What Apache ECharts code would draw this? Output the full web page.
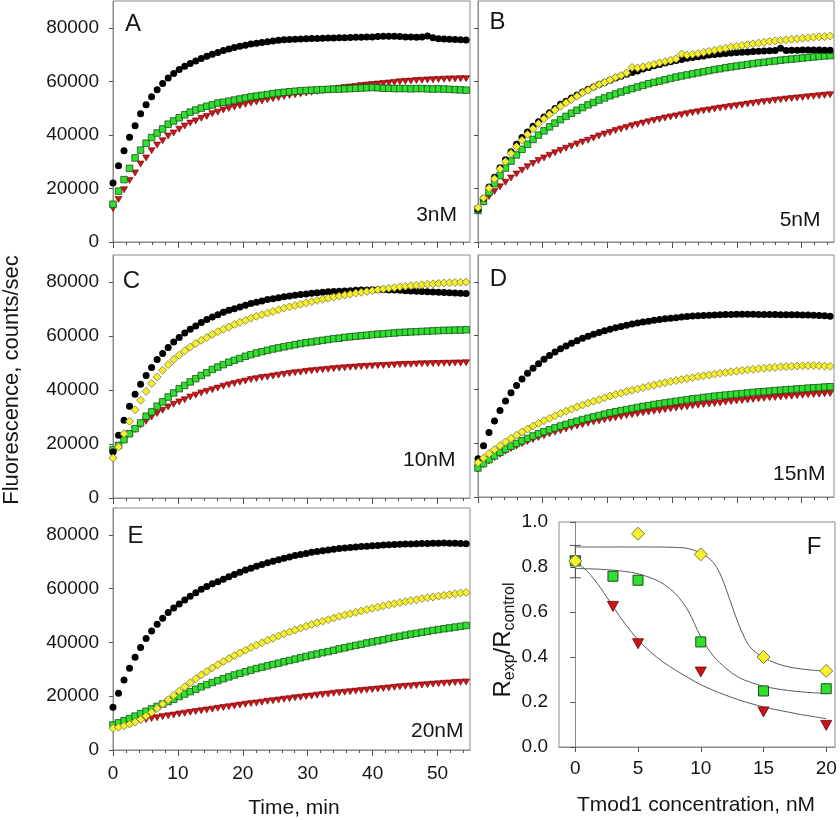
<!DOCTYPE html>
<html><head><meta charset="utf-8">
<script src="https://cdn.jsdelivr.net/npm/echarts@6.0.0/dist/echarts.min.js"></script>
<style>html,body{margin:0;padding:0;background:#fff}#c{width:840px;height:820px}</style>
</head><body><div id="c"></div>
<script>
// ---------- DATA ----------
const time = [0,0.85,1.7,2.55,3.4,4.25,5.1,5.95,6.8,7.65,8.5,9.35,10.2,11.05,11.9,12.75,13.6,14.45,15.3,16.15,17,17.85,18.7,19.55,20.4,21.25,22.1,22.95,23.8,24.65,25.5,26.35,27.2,28.05,28.9,29.75,30.6,31.45,32.3,33.15,34,34.85,35.7,36.55,37.4,38.25,39.1,39.95,40.8,41.65,42.5,43.35,44.2,45.05,45.9,46.75,47.6,48.45,49.3,50.15,51,51.85,52.7,53.55,54.4];

// Panel A (3nM)
const A_black = [22000,28500,34100,39100,43400,47900,51300,54200,56900,59200,61200,62900,64400,65600,66700,67600,68500,69400,70100,70800,71500,72100,72600,73100,73500,73900,74200,74500,74800,75100,75300,75500,75600,75700,75800,75900,76000,76000,76100,76200,76200,76300,76300,76400,76500,76500,76600,76600,76700,76800,76800,76800,76700,76600,76600,76500,76600,76900,76300,75900,75800,75700,75600,75500,75400];
const A_green = [14100,19000,23300,27500,31400,34300,36900,39000,40700,42200,44000,45200,46400,47500,48500,49300,50000,50700,51200,51900,52200,52600,53000,53400,53800,54200,54500,54800,55100,55400,55700,55900,56100,56300,56500,56600,56700,56800,56900,57000,57100,57100,57200,57300,57400,57500,57600,57700,57600,57400,57400,57300,57300,57300,57200,57300,57300,57200,57100,57200,57100,57000,56900,56800,56700];
const A_red = [12500,15900,19500,23000,25800,29100,31400,34100,36200,37800,39600,40700,42100,43300,44400,45200,46200,46900,47900,48500,49300,49900,50400,50900,51400,51900,52300,52700,53100,53500,53900,54300,54700,55000,55300,55600,55900,56200,56500,56800,57100,57400,57700,57900,58100,58400,58600,58800,59000,59200,59400,59600,59800,60000,60100,60300,60400,60500,60600,60700,60800,60900,60900,61000,61000];

// Panel B (5nM)
const B_black = [12200,16200,20500,24200,27700,30700,33700,36500,39000,41100,43200,44900,46700,48300,49900,51400,52600,53800,54900,56000,57000,57900,58800,59600,60400,61200,61900,62600,63300,63900,64600,65200,65800,66300,66800,67300,67800,68200,68600,68900,69200,69500,69800,70000,70200,70400,70600,70800,70900,71000,71100,71200,71300,71400,71500,72400,71500,71600,71600,71700,71700,71700,71700,71600,71600];
const B_yellow = [12800,16400,20100,23600,27300,30100,33100,35700,38000,40200,42300,44200,46000,47700,49300,50700,52000,53200,54400,55700,56700,57800,58800,59600,60500,61500,62200,63100,65200,65000,65400,65900,66400,66900,67400,67900,68400,70200,69800,70100,70400,70800,71200,71600,72000,72400,72800,73100,73400,73700,74000,74300,74600,74900,75100,75300,75500,75700,75900,76100,76300,76500,76600,76700,76900];
const B_green = [11800,15200,18600,21800,24800,27600,30200,32500,34600,36500,38300,39900,41500,43000,44400,45700,46900,48100,49200,50200,51200,52100,53000,53800,54600,55300,56000,56700,57300,57900,58500,59100,59600,60100,60600,61100,61600,62000,62400,62800,63200,63600,64000,64400,64700,65100,65400,65700,66000,66300,66600,66900,67100,67400,67600,67900,68100,68300,68500,68700,68900,69100,69300,69500,69600];
const B_red = [12300,14800,17000,18900,20600,22300,23900,25400,26800,28100,29300,30400,31400,32400,33300,34200,35000,35800,36600,37300,38000,38800,39600,40300,40900,41600,42200,42800,43400,43900,44400,44900,45400,45800,46300,46700,47100,47500,47900,48300,48600,49000,49300,49700,50000,50300,50600,50900,51200,51500,51800,52100,52400,52600,52900,53100,53400,53600,53800,54000,54200,54400,54600,54800,55000];

// Panel C (10nM)
const C_black = [17000,23200,28800,34000,38400,42100,45400,48300,51300,53500,55700,57800,59400,61100,62500,63700,65000,66100,67000,67900,68800,69500,70100,70700,71400,72000,72500,73000,73500,73800,74200,74500,74800,75100,75400,75600,75800,76000,76200,76400,76500,76600,76700,76800,76900,77000,77000,77100,77100,77100,77000,77000,76900,76800,76700,76600,76500,76400,76300,76200,76100,76000,75900,75800,75700];
const C_yellow = [14800,18900,23800,28400,32700,36200,39500,42400,44800,47300,49400,51300,52900,54500,55900,57200,58400,59400,60600,61600,62500,63300,64300,65100,65800,66600,67300,67900,68500,69100,69700,70300,70800,71300,71800,72300,72700,73200,73600,74000,74400,74800,75200,75500,75900,76200,76500,76800,77100,77400,77700,77900,78200,78400,78600,78800,79000,79200,79300,79500,79600,79700,79800,79900,80000];
const C_green = [17900,19500,21600,23800,25700,27800,30300,31900,34000,35600,37400,38900,40500,41700,43000,44200,45400,46400,47600,48500,49400,50300,51000,51700,52500,53100,53700,54200,54700,55200,55600,56000,56400,56800,57200,57500,57800,58100,58400,58700,59000,59200,59500,59700,59900,60100,60300,60500,60700,60800,61000,61100,61300,61400,61500,61600,61700,61800,61900,62000,62100,62100,62200,62200,62300];
const C_red = [16800,19400,21700,23700,25400,27000,28400,30000,31300,32500,33700,34700,35600,36400,37400,38100,38900,39500,40100,40700,41400,41900,42400,42900,43300,43900,44200,44600,44800,45200,45500,45800,46100,46400,46600,46900,47100,47300,47500,47700,47900,48100,48200,48400,48500,48700,48800,48900,49000,49100,49200,49300,49400,49500,49500,49600,49700,49700,49800,49800,49900,49900,50000,50000,50100];

// Panel D (15nM)
const D_black = [14200,19100,24000,28300,32200,35700,38800,41500,43900,46000,47900,49600,51200,52600,53900,55100,56200,57200,58100,59000,59800,60500,61200,61800,62400,62900,63400,63900,64300,64700,65100,65400,65700,66000,66300,66500,66700,66900,67100,67300,67400,67500,67600,67700,67800,67900,67900,68000,68000,68000,68000,67900,67900,67900,67900,67800,67800,67800,67800,67700,67700,67600,67500,67400,67200];
const D_yellow = [12800,14500,16100,17600,19100,20500,21800,23000,24200,25300,26400,27400,28400,29300,30200,31100,31900,32700,33500,34200,34900,35600,36200,36900,37500,38100,38600,39200,39700,40200,40700,41200,41600,42100,42500,42900,43300,43700,44100,44400,44800,45100,45400,45700,46000,46300,46600,46800,47100,47300,47500,47700,47900,48100,48200,48400,48500,48600,48700,48800,48800,48900,48800,48700,48600];
const D_green = [10800,12400,13900,15300,16600,17800,18900,19900,20900,21800,22700,23500,24300,25000,25700,26400,27000,27600,28200,28800,29300,29800,30300,30800,31300,31700,32100,32500,32900,33300,33700,34000,34400,34700,35000,35300,35600,35900,36200,36500,36700,37000,37200,37500,37700,37900,38100,38300,38500,38700,38900,39100,39200,39400,39600,39700,39900,40000,40200,40300,40500,40600,40700,40900,41000];
const D_red = [10500,12000,13400,14700,15900,17000,18000,18900,19800,20600,21400,22100,22800,23500,24100,24700,25300,25900,26400,26900,27400,27900,28300,28700,29100,29500,29900,30300,30600,31000,31300,31600,31900,32200,32500,32800,33100,33400,33600,33900,34100,34400,34600,34800,35000,35300,35500,35700,35900,36100,36300,36500,36700,36900,37000,37200,37400,37500,37700,37800,38000,38100,38200,38400,38500];

// Panel E (20nM)
const E_black = [15900,21100,26000,30400,34500,38100,41500,44300,46800,49000,51100,52800,54300,55800,57200,58500,59800,60800,61800,62600,63500,64400,65300,66100,66900,67600,68300,69000,69600,70200,70800,71300,71800,72300,72700,73100,73500,73800,74100,74400,74700,74900,75100,75300,75500,75700,75800,76000,76100,76200,76300,76400,76500,76600,76600,76700,76800,76800,76900,76900,77000,76900,76900,76800,76700];
const E_yellow = [8100,8500,9000,9600,10400,11400,12600,14000,15500,17100,18700,20300,21900,23500,25000,26500,27900,29200,30500,31700,32900,34000,35100,36100,37100,38100,39000,39900,40800,41600,42400,43200,43900,44600,45300,46000,46700,47300,47900,48500,49100,49700,50200,50700,51200,51700,52200,52700,53100,53600,54000,54400,54800,55200,55600,55900,56300,56600,56900,57200,57500,57800,58100,58400,58600];
const E_green = [9300,10100,10900,11700,12600,13500,14400,15300,16200,17100,18000,18900,19900,20800,21700,22600,23500,24300,25100,25800,26500,27200,27900,28500,29100,29700,30300,30800,31300,31800,32300,32800,33300,33800,34300,34800,35300,35700,36200,36600,37100,37600,38000,38500,38900,39300,39800,40200,40600,41000,41500,41900,42300,42700,43100,43400,43800,44100,44500,44800,45100,45400,45700,46000,46300];
const E_red = [9000,9400,9800,10200,10600,11000,11300,11700,12000,12400,12700,13000,13400,13700,14000,14300,14600,14900,15200,15500,15800,16100,16400,16700,17000,17300,17500,17800,18100,18300,18600,18900,19100,19400,19600,19900,20100,20400,20600,20800,21100,21300,21500,21700,21900,22100,22300,22500,22700,22900,23100,23300,23500,23700,23800,24000,24200,24300,24500,24600,24800,24900,25100,25200,25300];

// Panel F: ratio vs Tmod1 concentration
const F_yellow_x = [0,5,10,15,20];
const F_yellow_y = [0.827,0.948,0.856,0.400,0.338];
const F_green_x = [0,3,5,10,15,20];
const F_green_y = [0.827,0.759,0.741,0.467,0.249,0.259];
const F_red_x = [0,3,5,10,15,20];
const F_red_y = [0.827,0.625,0.459,0.333,0.156,0.096];
const fitYellow_x = [0,2,4,6,8,9,10,10.5,11,11.5,12,12.5,13,13.5,14,15,16,17,18,19,20];
const fitYellow_y = [0.889,0.889,0.889,0.889,0.887,0.882,0.862,0.845,0.82,0.775,0.705,0.625,0.548,0.485,0.44,0.398,0.372,0.356,0.347,0.341,0.338];
const fitGreen_x = [0,1,2,3,4,5,6,7,8,9,10,11,12,13,14,15,16,17,18,19,20];
const fitGreen_y = [0.793,0.792,0.790,0.786,0.780,0.770,0.752,0.725,0.680,0.605,0.490,0.405,0.350,0.310,0.287,0.270,0.259,0.251,0.245,0.241,0.238];
const fitRed_x = [0,1,2,3,4,5,6,7,8,9,10,11,12,13,14,15,16,17,18,19,20];
const fitRed_y = [0.827,0.778,0.708,0.625,0.545,0.477,0.422,0.378,0.341,0.308,0.277,0.252,0.230,0.210,0.193,0.178,0.166,0.155,0.144,0.135,0.126];
const errX = [0];
const errLow = [0.752];
const errHigh = [0.896];

// tick labels
const timeMinorTicks = [0,2,4,6,8,10,12,14,16,18,20,22,24,26,28,30,32,34,36,38,40,42,44,46,48,50,52,54];
const timeMajorTicks = [0,10,20,30,40,50];
const fluoTicks = [0,20000,40000,60000,80000];
const concTicks = [0,5,10,15,20];

// ---------- CHART ----------
const FONT = '"Liberation Sans", Arial, sans-serif';
const TXT = '#151515';
const FRAME = '#8a8a8a';
const TICKC = '#505050';

const grids = [
  {left:113, top:1, width:357, height:241},
  {left:478, top:1, width:356, height:241},
  {left:113, top:255, width:357, height:243},
  {left:478, top:255, width:356, height:242},
  {left:113, top:508, width:357, height:242},
  {left:559, top:522, width:276, height:225}
].map(g => Object.assign(g, {show:true, borderColor:FRAME, borderWidth:1, backgroundColor:'transparent'}));

const xAxes = [], yAxes = [], series = [];
const showYLabel = [true,false,true,false,true];
for (let i = 0; i < 5; i++) {
  xAxes.push({
    type:'value', gridIndex:i, min:0, max:55, position:'bottom',
    axisLine:{show:true, lineStyle:{color:FRAME, width:1}},
    axisTick:{show:true, customValues:timeMinorTicks, length:3, lineStyle:{color:TICKC}},
    axisLabel:{show:i===4, customValues:timeMajorTicks, fontSize:19, fontFamily:FONT, color:TXT, margin:14, formatter:v => String(v)},
    splitLine:{show:false}
  });
  xAxes.push({
    type:'value', gridIndex:i, min:0, max:55, position:'bottom',
    axisLine:{show:false},
    axisTick:{show:true, customValues:timeMajorTicks, length:6, lineStyle:{color:TICKC}},
    axisLabel:{show:false},
    splitLine:{show:false}
  });
  yAxes.push({
    type:'value', gridIndex:i, min:0, max:90000,
    axisLine:{show:true, lineStyle:{color:FRAME, width:1}},
    axisTick:{show:true, customValues:fluoTicks, length:4, lineStyle:{color:TICKC}},
    axisLabel:{show:showYLabel[i], customValues:fluoTicks, fontSize:19, fontFamily:FONT, color:TXT, margin:14, formatter:v => String(v)},
    splitLine:{show:false}
  });
}
xAxes.push({
  type:'value', gridIndex:5, min:-1.3, max:20.7,
  axisLine:{show:true, lineStyle:{color:FRAME}},
  axisTick:{show:true, customValues:concTicks, length:5, lineStyle:{color:TICKC}},
  axisLabel:{show:true, customValues:concTicks, fontSize:19, fontFamily:FONT, color:TXT, margin:12, formatter:v => String(v)},
  splitLine:{show:false}
});
yAxes.push({
  type:'value', gridIndex:5, min:0, max:1, interval:0.2,
  axisLine:{show:true, lineStyle:{color:FRAME}},
  axisTick:{show:true, length:5, lineStyle:{color:TICKC}},
  axisLabel:{show:true, fontSize:19, fontFamily:FONT, color:TXT, margin:11, formatter:v => v.toFixed(1)},
  splitLine:{show:false}
});

const STY = {
  black:{symbol:'circle', symbolSize:7, itemStyle:{color:'#000', borderWidth:0, opacity:1}},
  green:{symbol:'rect', symbolSize:6.5, itemStyle:{color:'#2fe02f', borderColor:'#1b4d1b', borderWidth:0.8, opacity:1}},
  red:{symbol:'triangle', symbolSize:[7,6], symbolRotate:180, itemStyle:{color:'#c8161b', borderColor:'#6e0000', borderWidth:0.6, opacity:1}},
  yellow:{symbol:'diamond', symbolSize:[8,8], itemStyle:{color:'#f6f032', borderColor:'#7d7a33', borderWidth:0.8, opacity:1}}
};
function addScatter(gi, arr, kind) {
  series.push(Object.assign({
    type:'scatter', xAxisIndex:gi*2, yAxisIndex:gi,
    data: time.map((t, k) => [t, arr[k]]),
    silent:true, animation:false
  }, STY[kind]));
}
const panels = [
  {red:A_red, green:A_green, black:A_black},
  {red:B_red, green:B_green, black:B_black, yellow:B_yellow},
  {red:C_red, green:C_green, black:C_black, yellow:C_yellow},
  {red:D_red, green:D_green, black:D_black, yellow:D_yellow},
  {red:E_red, green:E_green, black:E_black, yellow:E_yellow}
];
panels.forEach((p, gi) => {
  ['red','green','black','yellow'].forEach(k => { if (p[k]) addScatter(gi, p[k], k); });
});

// Panel F
const fitLine = (xs, ys) => ({
  type:'line', xAxisIndex:10, yAxisIndex:5, data: xs.map((x, k) => [x, ys[k]]),
  smooth:0.35, showSymbol:false, symbol:'none', lineStyle:{color:'#5a5a5a', width:1}, silent:true, animation:false, z:1
});
series.push(fitLine(fitRed_x, fitRed_y));
series.push(fitLine(fitGreen_x, fitGreen_y));
series.push(fitLine(fitYellow_x, fitYellow_y));
series.push({
  type:'custom', xAxisIndex:10, yAxisIndex:5, z:1, silent:true, animation:false,
  data: errX.map((x, k) => [x, errLow[k], errHigh[k]]),
  renderItem: function (params, api) {
    const lo = api.coord([api.value(0), api.value(1)]);
    const hi = api.coord([api.value(0), api.value(2)]);
    const w = 5.5, st = {stroke:'#4a4a4a', lineWidth:1};
    return {type:'group', children:[
      {type:'line', shape:{x1:lo[0], y1:lo[1], x2:hi[0], y2:hi[1]}, style:st},
      {type:'line', shape:{x1:lo[0]-w, y1:lo[1], x2:lo[0]+w, y2:lo[1]}, style:st},
      {type:'line', shape:{x1:hi[0]-w, y1:hi[1], x2:hi[0]+w, y2:hi[1]}, style:st}
    ]};
  }
});
const fScatter = (xs, ys, sty) => Object.assign({
  type:'scatter', xAxisIndex:10, yAxisIndex:5, data: xs.map((x, k) => [x, ys[k]]), silent:true, animation:false, z:3
}, sty);
series.push(fScatter(F_red_x, F_red_y, {symbol:'triangle', symbolSize:[11,10], symbolRotate:180, itemStyle:{color:'#c8161b', borderColor:'#6e0000', borderWidth:0.8, opacity:1}}));
series.push(fScatter(F_green_x, F_green_y, {symbol:'rect', symbolSize:10, itemStyle:{color:'#2fe02f', borderColor:'#1b4d1b', borderWidth:1, opacity:1}}));
series.push(fScatter(F_yellow_x, F_yellow_y, {symbol:'diamond', symbolSize:[13,13], itemStyle:{color:'#f6f032', borderColor:'#7d7a33', borderWidth:1, opacity:1}}));

// ---------- TEXT ----------
function txt(x, y, s, size, align, rot) {
  return {type:'text', x:x, y:y, rotation:rot || 0, silent:true,
    style:{text:s, font:size + 'px ' + FONT, fill:TXT, textAlign:align || 'center', align:align || 'center', textVerticalAlign:'middle', verticalAlign:'middle'}};
}
const graphics = [
  txt(133, 24, 'A', 24), txt(497.5, 22, 'B', 24), txt(131.5, 281, 'C', 24),
  txt(498.5, 279, 'D', 24), txt(135.5, 536, 'E', 24), txt(814, 547, 'F', 24),
  txt(457, 215.5, '3nM', 21, 'right'), txt(820.5, 220, '5nM', 21, 'right'),
  txt(455.5, 460, '10nM', 21, 'right'), txt(825.5, 474.5, '15nM', 21, 'right'),
  txt(463.5, 731, '20nM', 21, 'right'),
  txt(294, 808, 'Time, min', 21),
  txt(696, 805, 'Tmod1 concentration, nM', 21),
  txt(12, 380, 'Fluorescence, counts/sec', 22, 'center', Math.PI / 2),
  {type:'text', x:503, y:640, rotation:Math.PI / 2, silent:true,
    style:{text:'{R|R}{s|exp}{R|/R}{s|control}', fill:TXT, textAlign:'center', align:'center', textVerticalAlign:'middle', verticalAlign:'middle',
      rich:{R:{fontSize:24, fontFamily:FONT, lineHeight:30, fill:TXT, color:TXT}, s:{fontSize:16, fontFamily:FONT, lineHeight:15, verticalAlign:'bottom', fill:TXT, color:TXT}}}}
];

const chart = echarts.init(document.getElementById('c'), null, {renderer:'canvas'});
chart.setOption({
  animation:false,
  backgroundColor:'#ffffff',
  grid:grids, xAxis:xAxes, yAxis:yAxes, series:series, graphic:graphics
});
</script>
</body></html>
